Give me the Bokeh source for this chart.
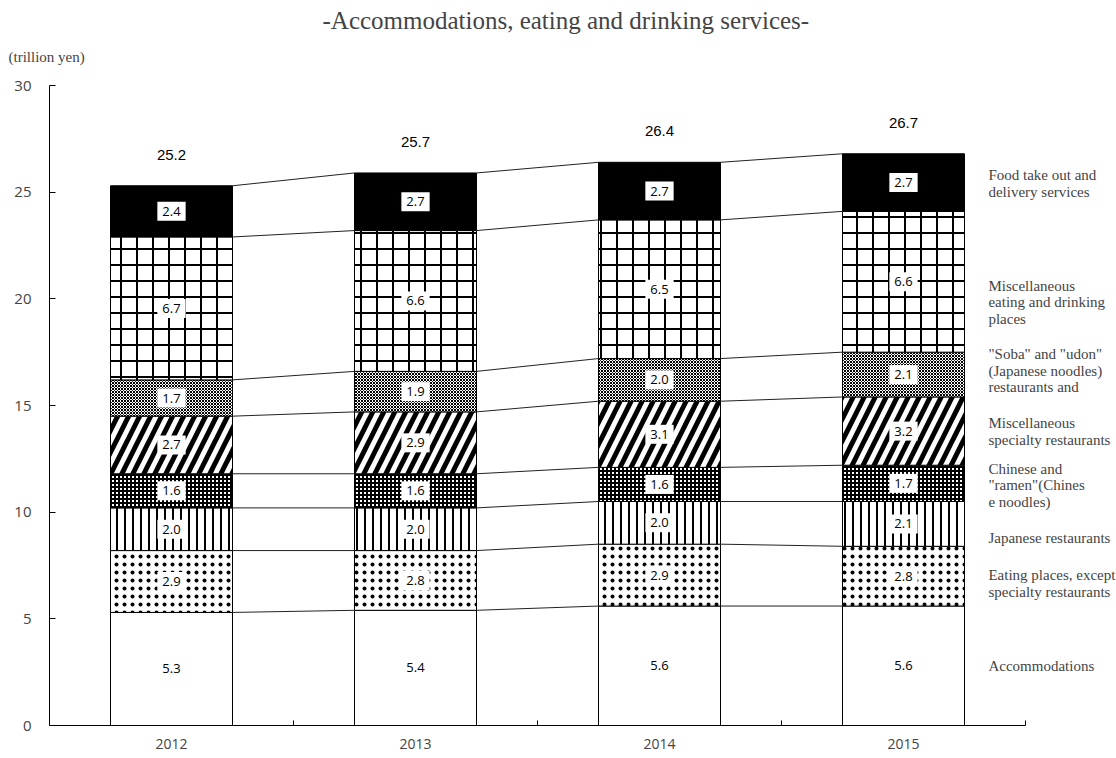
import numpy as np
from bokeh.plotting import figure
from bokeh.models import Range1d, FixedTicker, Label, ColumnDataSource, Title
from bokeh.core.properties import value
from bokeh.embed import file_html
from bokeh.resources import INLINE

years = ["2012", "2013", "2014", "2015"]
accommodations = [5.3, 5.4, 5.6, 5.6]
eating_places = [2.9, 2.8, 2.9, 2.8]
japanese = [2.0, 2.0, 2.0, 2.1]
chinese_ramen = [1.6, 1.6, 1.6, 1.7]
misc_specialty = [2.7, 2.9, 3.1, 3.2]
soba_udon = [1.7, 1.9, 2.0, 2.1]
misc_eating = [6.7, 6.6, 6.5, 6.6]
take_out = [2.4, 2.7, 2.7, 2.7]
totals = [25.2, 25.7, 26.4, 26.7]

series_names = [
    "Accommodations",
    "Eating places, except\nspecialty restaurants",
    "Japanese restaurants",
    "Chinese and\n\"ramen\"(Chines\ne noodles)",
    "Miscellaneous\nspecialty restaurants",
    "\"Soba\" and \"udon\"\n(Japanese noodles)\nrestaurants and",
    "Miscellaneous\neating and drinking\nplaces",
    "Food take out and\ndelivery services",
]
series_values = [accommodations, eating_places, japanese, chinese_ramen,
                 misc_specialty, soba_udon, misc_eating, take_out]
# legend label vertical positions (trillion yen, right side)
legend_y = [2.81, 6.66, 8.81, 11.25, 13.78, 16.64, 19.83, 25.4]

styles = [
    dict(fill_color="white"),
    dict(fill_color="white", hatch_pattern="dot", hatch_scale=8, hatch_weight=0.5, hatch_color="black"),
    dict(fill_color="white", hatch_pattern="vertical_line", hatch_scale=8, hatch_weight=2, hatch_color="black"),
    dict(fill_color="white", hatch_pattern="cross", hatch_scale=4, hatch_weight=2, hatch_color="black"),
    dict(fill_color="white", hatch_pattern="right_diagonal_line", hatch_scale=22, hatch_weight=5, hatch_color="black"),
    dict(fill_color="white", hatch_pattern="diagonal_cross", hatch_scale=3, hatch_weight=1, hatch_color="black"),
    dict(fill_color="white", hatch_pattern="cross", hatch_scale=16, hatch_weight=2, hatch_color="black"),
    dict(fill_color="black"),
]

x = np.arange(1, len(years) + 1)
vals = np.array(series_values)
tops = np.cumsum(vals, axis=0)
bottoms = tops - vals

p = figure(width=1116, height=758, output_backend="svg", toolbar_location=None,
           title="-Accommodations, eating and drinking services-",
           x_range=Range1d(0.5, 0.5 + 1067 / 244), y_range=Range1d(0, 30),
           min_border_left=49, min_border_right=0, min_border_top=85, min_border_bottom=33)
p.outline_line_color = None
p.xgrid.visible = False
p.ygrid.visible = False
p.background_fill_color = "white"

p.title.align = "left"
p.title.offset = 273
p.title.standoff = -17
p.title.text_font = "Liberation Serif"
p.title.text_font_size = "25px"
p.title.text_font_style = "normal"
p.add_layout(Title(text="(trillion yen)", align="left", offset=-41, standoff=42,
                   text_font="Liberation Serif", text_font_size="15px",
                   text_font_style="normal"), "above")

bar_w = 0.5
for i, (name, v) in enumerate(zip(series_names, series_values)):
    src = ColumnDataSource(dict(x=x, bottom=bottoms[i], top=tops[i],
                                ymid=(bottoms[i] + tops[i]) / 2,
                                lab=[f"{a:.1f}" for a in v]))
    p.vbar(x="x", bottom="bottom", top="top", width=bar_w, source=src,
           line_color="black", line_width=1, **styles[i])
    p.text(x="x", y="ymid", text="lab", source=src, text_align="center",
           text_baseline="middle", text_font=value("Open Sans"), text_font_size="13px",
           text_color="black", background_fill_color="white", padding=5)

# connecting lines between bars
for i in range(len(series_values)):
    p.segment(x0=x[:-1] + bar_w / 2, y0=tops[i][:-1], x1=x[1:] - bar_w / 2, y1=tops[i][1:],
              line_color="#222222", line_width=1)

# totals
tsrc = ColumnDataSource(dict(x=x, y=tops[-1], lab=[f"{t:.1f}" for t in totals]))
p.text(x="x", y="y", text="lab", source=tsrc, text_align="center", text_baseline="middle",
       y_offset=-31, text_font=value("Liberation Sans"), text_font_size="15px", text_color="black")

# right side legend texts
for name, ly in zip(series_names, legend_y):
    p.add_layout(Label(x=4.348, y=ly, text=name, text_align="left", text_baseline="middle",
                       text_font="Liberation Serif", text_font_size="15px", text_line_height=1.06))

# axes
p.xaxis.ticker = FixedTicker(ticks=list(x), minor_ticks=[1.5, 2.5, 3.5, 4.5])
p.xaxis.major_label_overrides = {int(i): y for i, y in zip(x, years)}
p.xaxis.bounds = (0.5, 4.5)
p.xaxis.major_tick_in = 0
p.xaxis.major_tick_out = 0
p.xaxis.minor_tick_in = 5
p.xaxis.minor_tick_out = 0
p.xaxis.major_label_standoff = 13
p.xaxis.major_label_text_font = "Open Sans"
p.xaxis.major_label_text_font_size = "14px"
p.xaxis.axis_line_width = 1

p.yaxis.ticker = FixedTicker(ticks=[0, 5, 10, 15, 20, 25, 30], minor_ticks=[])
p.yaxis.major_tick_in = 6
p.yaxis.major_tick_out = 0
p.yaxis.major_label_standoff = 18
p.yaxis.major_label_text_font = "Open Sans"
p.yaxis.major_label_text_font_size = "15px"
p.yaxis.axis_line_width = 1

open("out.html", "w").write(file_html(p, INLINE))
